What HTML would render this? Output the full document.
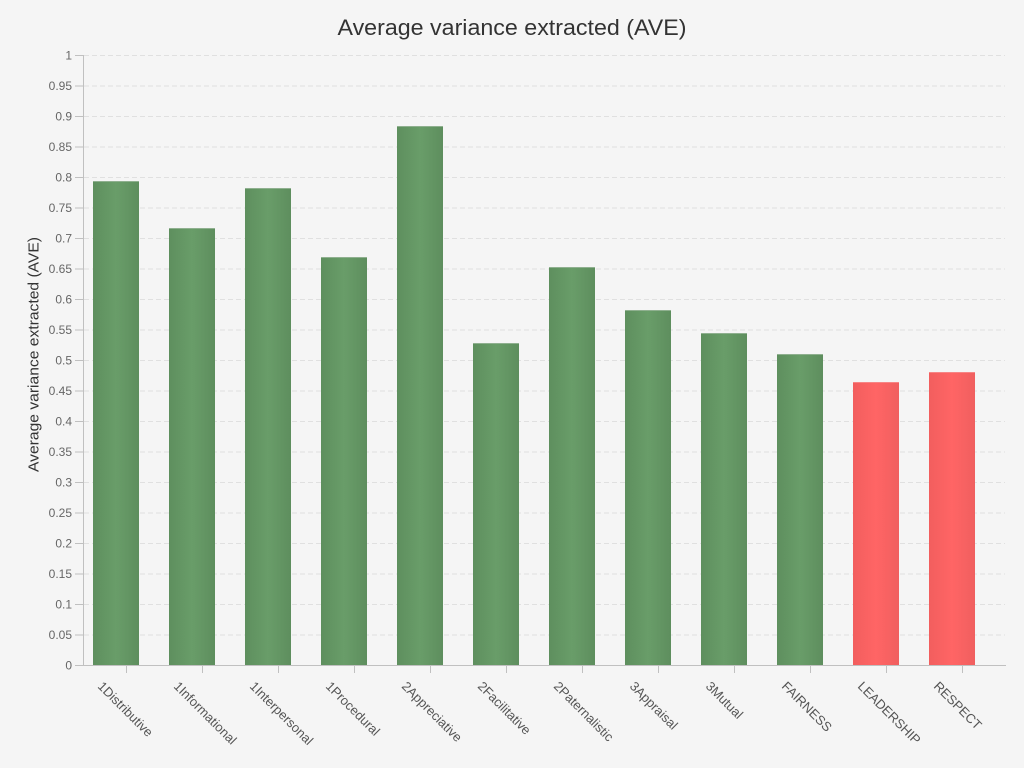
<!DOCTYPE html>
<html>
<head>
<meta charset="utf-8">
<style>
html,body{margin:0;padding:0;background:#f5f5f5;}
svg{display:block;}
text{font-family:"Liberation Sans","DejaVu Sans",sans-serif;}
</style>
</head>
<body>
<svg width="1024" height="768" viewBox="0 0 1024 768" xmlns="http://www.w3.org/2000/svg">
<defs>
<linearGradient id="gg" x1="0" y1="0" x2="1" y2="0">
<stop offset="0" stop-color="#5e8f5e"/>
<stop offset="0.5" stop-color="#699d69"/>
<stop offset="1" stop-color="#5e8e5e"/>
</linearGradient>
<linearGradient id="rg" x1="0" y1="0" x2="1" y2="0">
<stop offset="0" stop-color="#f25e5e"/>
<stop offset="0.5" stop-color="#ff6565"/>
<stop offset="1" stop-color="#f05f5f"/>
</linearGradient>
</defs>
<rect width="1024" height="768" fill="#f5f5f5"/>
<text x="512" y="35" text-anchor="middle" font-size="22.5" fill="#333" textLength="349" lengthAdjust="spacingAndGlyphs">Average variance extracted (AVE)</text>

<g stroke="#e0e0e0" stroke-width="1" stroke-dasharray="5,3">
<line x1="84" x2="1005" y1="55.5" y2="55.5"/>
<line x1="84" x2="1005" y1="86" y2="86"/>
<line x1="84" x2="1005" y1="116.5" y2="116.5"/>
<line x1="84" x2="1005" y1="147" y2="147"/>
<line x1="84" x2="1005" y1="177.5" y2="177.5"/>
<line x1="84" x2="1005" y1="208" y2="208"/>
<line x1="84" x2="1005" y1="238.5" y2="238.5"/>
<line x1="84" x2="1005" y1="269" y2="269"/>
<line x1="84" x2="1005" y1="299.5" y2="299.5"/>
<line x1="84" x2="1005" y1="330" y2="330"/>
<line x1="84" x2="1005" y1="360.5" y2="360.5"/>
<line x1="84" x2="1005" y1="391" y2="391"/>
<line x1="84" x2="1005" y1="421.5" y2="421.5"/>
<line x1="84" x2="1005" y1="452" y2="452"/>
<line x1="84" x2="1005" y1="482.5" y2="482.5"/>
<line x1="84" x2="1005" y1="513" y2="513"/>
<line x1="84" x2="1005" y1="543.5" y2="543.5"/>
<line x1="84" x2="1005" y1="574" y2="574"/>
<line x1="84" x2="1005" y1="604.5" y2="604.5"/>
<line x1="84" x2="1005" y1="635" y2="635"/>
</g>

<g>
<rect x="93" y="181" width="46" height="484" fill="url(#gg)"/>
<rect x="169" y="228" width="46" height="437" fill="url(#gg)"/>
<rect x="245" y="188" width="46" height="477" fill="url(#gg)"/>
<rect x="321" y="257" width="46" height="408" fill="url(#gg)"/>
<rect x="397" y="126" width="46" height="539" fill="url(#gg)"/>
<rect x="473" y="343" width="46" height="322" fill="url(#gg)"/>
<rect x="549" y="267" width="46" height="398" fill="url(#gg)"/>
<rect x="625" y="310" width="46" height="355" fill="url(#gg)"/>
<rect x="701" y="333" width="46" height="332" fill="url(#gg)"/>
<rect x="777" y="354" width="46" height="311" fill="url(#gg)"/>
<rect x="853" y="382" width="46" height="283" fill="url(#rg)"/>
<rect x="929" y="372" width="46" height="293" fill="url(#rg)"/>
</g>
<g fill="#8fb08f">
<rect x="93" y="181" width="46" height="1"/>
<rect x="169" y="228" width="46" height="1"/>
<rect x="245" y="188" width="46" height="1"/>
<rect x="321" y="257" width="46" height="1"/>
<rect x="397" y="126" width="46" height="1"/>
<rect x="473" y="343" width="46" height="1"/>
<rect x="549" y="267" width="46" height="1"/>
<rect x="625" y="310" width="46" height="1"/>
<rect x="701" y="333" width="46" height="1"/>
<rect x="777" y="354" width="46" height="1"/>
</g>
<g fill="#f78585">
<rect x="853" y="382" width="46" height="1"/>
<rect x="929" y="372" width="46" height="1"/>
</g>

<g stroke="#c0c0c0" stroke-width="1">
<line x1="83.5" y1="55" x2="83.5" y2="665.5"/>
<line x1="83" y1="665.5" x2="1006" y2="665.5"/>
<line x1="75" x2="83" y1="55.5" y2="55.5"/>
<line x1="75" x2="83" y1="86" y2="86"/>
<line x1="75" x2="83" y1="116.5" y2="116.5"/>
<line x1="75" x2="83" y1="147" y2="147"/>
<line x1="75" x2="83" y1="177.5" y2="177.5"/>
<line x1="75" x2="83" y1="208" y2="208"/>
<line x1="75" x2="83" y1="238.5" y2="238.5"/>
<line x1="75" x2="83" y1="269" y2="269"/>
<line x1="75" x2="83" y1="299.5" y2="299.5"/>
<line x1="75" x2="83" y1="330" y2="330"/>
<line x1="75" x2="83" y1="360.5" y2="360.5"/>
<line x1="75" x2="83" y1="391" y2="391"/>
<line x1="75" x2="83" y1="421.5" y2="421.5"/>
<line x1="75" x2="83" y1="452" y2="452"/>
<line x1="75" x2="83" y1="482.5" y2="482.5"/>
<line x1="75" x2="83" y1="513" y2="513"/>
<line x1="75" x2="83" y1="543.5" y2="543.5"/>
<line x1="75" x2="83" y1="574" y2="574"/>
<line x1="75" x2="83" y1="604.5" y2="604.5"/>
<line x1="75" x2="83" y1="635" y2="635"/>
<line x1="75" x2="83" y1="665.5" y2="665.5"/>
<line x1="126.5" x2="126.5" y1="665" y2="673"/>
<line x1="202.5" x2="202.5" y1="665" y2="673"/>
<line x1="278.5" x2="278.5" y1="665" y2="673"/>
<line x1="354.5" x2="354.5" y1="665" y2="673"/>
<line x1="430.5" x2="430.5" y1="665" y2="673"/>
<line x1="506.5" x2="506.5" y1="665" y2="673"/>
<line x1="582.5" x2="582.5" y1="665" y2="673"/>
<line x1="658.5" x2="658.5" y1="665" y2="673"/>
<line x1="734.5" x2="734.5" y1="665" y2="673"/>
<line x1="810.5" x2="810.5" y1="665" y2="673"/>
<line x1="886.5" x2="886.5" y1="665" y2="673"/>
<line x1="962.5" x2="962.5" y1="665" y2="673"/>
</g>

<g font-size="12" fill="#666" text-anchor="end">
<text x="72" y="59.5">1</text>
<text x="72" y="90">0.95</text>
<text x="72" y="120.5">0.9</text>
<text x="72" y="151">0.85</text>
<text x="72" y="181.5">0.8</text>
<text x="72" y="212">0.75</text>
<text x="72" y="242.5">0.7</text>
<text x="72" y="273">0.65</text>
<text x="72" y="303.5">0.6</text>
<text x="72" y="334">0.55</text>
<text x="72" y="364.5">0.5</text>
<text x="72" y="395">0.45</text>
<text x="72" y="425.5">0.4</text>
<text x="72" y="456">0.35</text>
<text x="72" y="486.5">0.3</text>
<text x="72" y="517">0.25</text>
<text x="72" y="547.5">0.2</text>
<text x="72" y="578">0.15</text>
<text x="72" y="608.5">0.1</text>
<text x="72" y="639">0.05</text>
<text x="72" y="669.5">0</text>
</g>

<text transform="translate(38.5,354.5) rotate(-90)" text-anchor="middle" font-size="15" fill="#333" textLength="235" lengthAdjust="spacingAndGlyphs">Average variance extracted (AVE)</text>

<g font-size="13" fill="#555">
<text transform="translate(97,687) rotate(45)">1Distributive</text>
<text transform="translate(173,687) rotate(45)">1Informational</text>
<text transform="translate(249,687) rotate(45)">1Interpersonal</text>
<text transform="translate(325,687) rotate(45)">1Procedural</text>
<text transform="translate(401,687) rotate(45)">2Appreciative</text>
<text transform="translate(477,687) rotate(45)">2Facilitative</text>
<text transform="translate(553,687) rotate(45)">2Paternalistic</text>
<text transform="translate(629,687) rotate(45)">3Appraisal</text>
<text transform="translate(705,687) rotate(45)">3Mutual</text>
<text transform="translate(781,687) rotate(45)">FAIRNESS</text>
<text transform="translate(857,687) rotate(45)">LEADERSHIP</text>
<text transform="translate(933,687) rotate(45)">RESPECT</text>
</g>
</svg>
</body>
</html>
